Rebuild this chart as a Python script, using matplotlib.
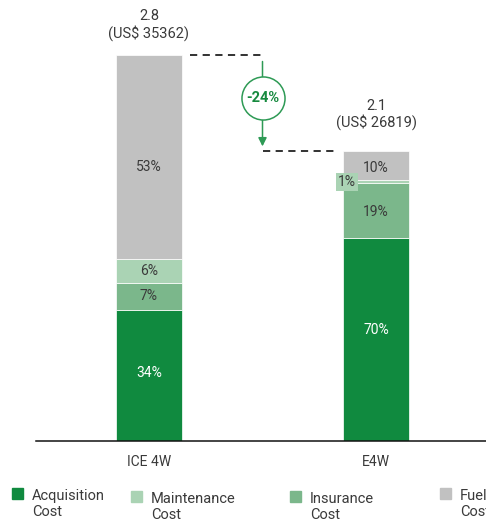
import matplotlib.pyplot as plt
from matplotlib.patches import Rectangle

plt.rcParams['font.family'] = ['Roboto', 'DejaVu Sans']

categories = ['ICE 4W', 'E4W']
totals = [2.8, 2.1]
usd = ['35362', '26819']
components = ['Acquisition\nCost', 'Maintenance\nCost', 'Insurance\nCost', 'Fuel\nCost']
# shares in % of total, stacked bottom -> top: acquisition, insurance, maintenance, fuel
acquisition = [34, 70]
insurance = [7, 19]
maintenance = [6, 1]
fuel = [53, 10]
change_label = '-24%'

c_acq = '#108A3F'
c_mnt = '#AAD3B4'
c_ins = '#7BB78B'
c_fuel = '#C1C1C1'
txt = '#3a3a3a'

fig = plt.figure(figsize=(4.86, 5.25), dpi=100)
ax = fig.add_axes([36/486, 1-441/525, 450/486, 441/525])
ax.set_xlim(-113/227, 337/227)
ax.set_ylim(0, 441/138)

x = [0, 1]
w = 0.29
stack = [(acquisition, c_acq), (insurance, c_ins), (maintenance, c_mnt), (fuel, c_fuel)]
# small vertical nudges of the segment labels (data units), per bar / per segment
nudge = [[0.02, 0, 0, -0.07], [0.07, -0.01, 0, -0.02]]
top_gap = [0.1, 0.15]
for i in x:
    bottom = 0
    for k, (vals, col) in enumerate(stack):
        h = totals[i] * vals[i] / 100
        ax.bar(i, h, w, bottom=bottom, color=col, edgecolor='white', linewidth=0.5)
        lab = f'{vals[i]}%'
        tcol = 'white' if col == c_acq else txt
        if vals[i] >= 5:
            ax.text(i, bottom + h / 2 + nudge[i][k], lab, ha='center', va='center',
                    fontsize=10, color=tcol)
        else:
            ax.text(i - 0.128, bottom + h / 2 - 0.005, lab, ha='center', va='center', fontsize=10,
                    color=txt, bbox=dict(boxstyle='square,pad=0.15', fc=c_mnt, ec='none'))
        bottom += h
    ax.text(i, totals[i] + top_gap[i], f'{totals[i]}\n(US$ {usd[i]})', ha='center', va='bottom',
            fontsize=10.5, color=txt, linespacing=1.15)

# dashed connectors and change arrow
ax.plot([0.18, 0.5], [totals[0], totals[0]], ls=(0, (4, 3)), color='#222222', lw=1.3)
ax.plot([0.5, 0.83], [totals[1], totals[1]], ls=(0, (4, 3)), color='#222222', lw=1.3)
ax.annotate('', xy=(0.5, totals[1] + 0.015), xytext=(0.5, totals[0] - 0.03),
            arrowprops=dict(arrowstyle='-|>,head_length=0.5,head_width=0.25', color='#2E9A55', lw=1.1))
ymid = (totals[0] + totals[1]) / 2 + 0.035
ax.plot([0.5], [ymid], marker='o', ms=31, mfc='white', mec='#2E9A55', mew=1.1, zorder=5)
ax.text(0.5, ymid, change_label, ha='center', va='center', fontsize=10.5, fontweight='bold',
        color='#178A3F', zorder=6)

for s in ['top', 'right', 'left']:
    ax.spines[s].set_visible(False)
ax.spines['bottom'].set_linewidth(1.1)
ax.spines['bottom'].set_color('#111111')
ax.set_yticks([])
ax.set_xticks(x)
ax.set_xticklabels(categories, fontsize=10, color=txt)
ax.tick_params(axis='x', length=0, pad=10)

# legend
leg_x = [12, 131, 290, 440]
leg_y = [488, 491, 491, 488]
for lx, ly, lab, col in zip(leg_x, leg_y, components, [c_acq, c_mnt, c_ins, c_fuel]):
    fig.patches.append(Rectangle((lx/486, 1-(ly+11)/525), 11/486, 11/525, color=col,
                                 transform=fig.transFigure, figure=fig))
    fig.text((lx+20)/486, 1-(ly+1)/525, lab, ha='left', va='top', fontsize=10.5, color=txt,
             linespacing=1.2)

fig.savefig('out.png', dpi=100)
